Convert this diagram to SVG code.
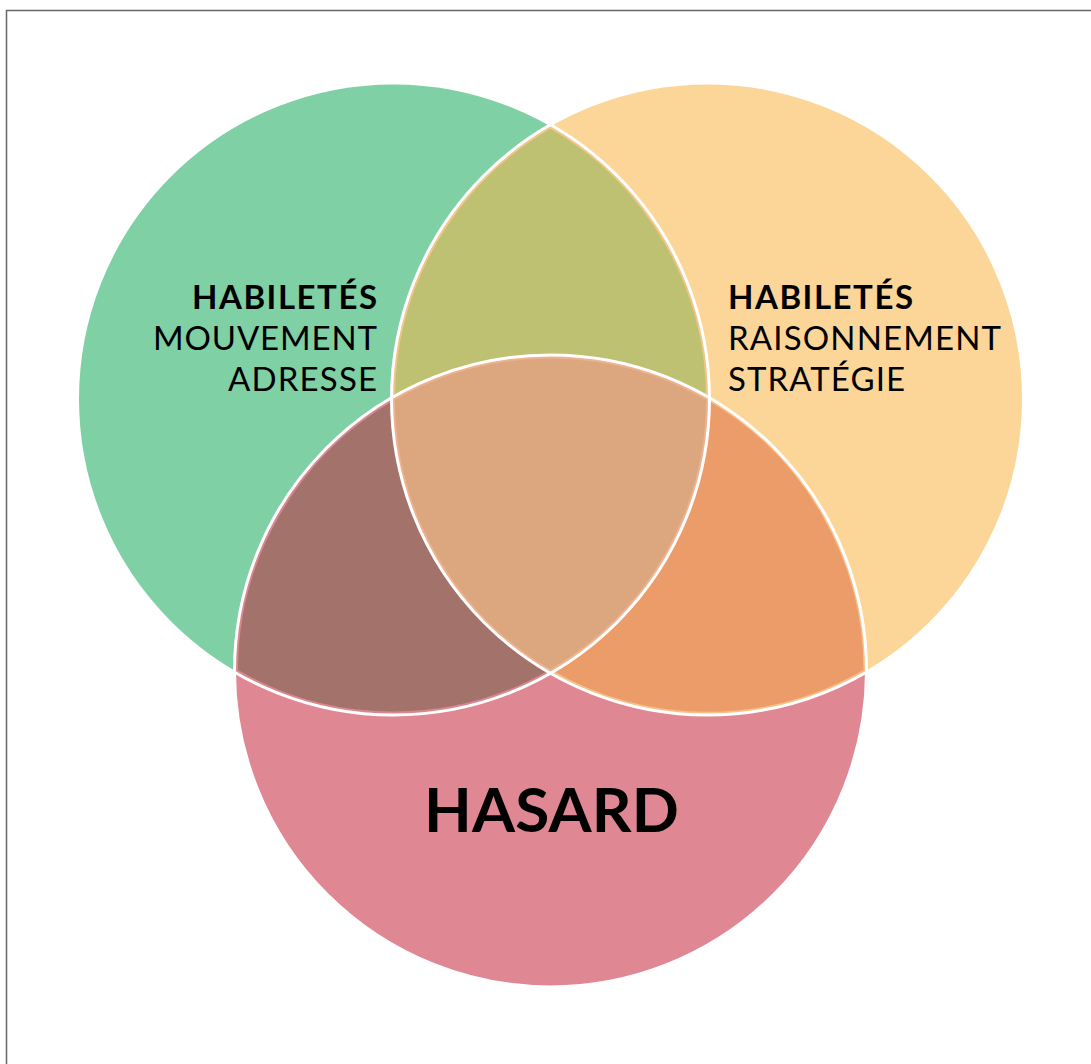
<svg xmlns="http://www.w3.org/2000/svg" width="1091" height="1064" viewBox="0 0 1091 1064">
<style>
.t{font-family:Lato,"Noto Sans",sans-serif;fill:#000;}
.b{font-weight:700;font-size:33px;}
.r{font-weight:400;font-size:33px;}
.band{fill:none;stroke-width:7;}
.edge{fill:none;stroke:#fff;stroke-width:3;}
</style>
<defs>
<path id="pGO" d="M550.5 124.76 A316 316 0 0 0 550.5 673.24 A316 316 0 0 0 550.5 124.76 Z"/>
<path id="pGR" d="M709.5 397.84 A316 316 0 0 0 234.5 672.08 A316 316 0 0 0 709.5 397.84 Z"/>
<path id="pOR" d="M391.5 397.84 A316 316 0 0 1 867 672.08 A316 316 0 0 1 391.5 397.84 Z"/>
<path id="pC" d="M391.5 397.84 A316 316 0 0 1 709.5 397.84 A316 316 0 0 1 550.5 673.24 A316 316 0 0 1 391.5 397.84 Z"/>
<clipPath id="cGO"><use href="#pGO"/></clipPath>
<clipPath id="cGR"><use href="#pGR"/></clipPath>
<clipPath id="cOR"><use href="#pOR"/></clipPath>
<clipPath id="cC"><use href="#pC"/></clipPath>
</defs>
<rect x="0" y="0" width="1091" height="1064" fill="#fff"/>
<rect x="6.5" y="10.5" width="1100" height="1100" fill="#fff" stroke="#666" stroke-width="1.5"/>
<g id="circle-mouvement">
<circle cx="393.5" cy="399" r="316" fill="#80D0A6"/>
</g>
<g id="circle-raisonnement">
<circle cx="707.5" cy="399" r="316" fill="#FCD699"/>
</g>
<g id="circle-hasard">
<circle cx="550.5" cy="670.9" r="316" fill="#E08794"/>
</g>
<g id="overlap-go">
<use href="#pGO" fill="#BFC172"/>
<use href="#pGO" class="band" stroke="#F0C588" clip-path="url(#cGO)"/>
</g>
<g id="overlap-gr">
<use href="#pGR" fill="#A3726B"/>
<use href="#pGR" class="band" stroke="#D9868F" clip-path="url(#cGR)"/>
</g>
<g id="overlap-or">
<use href="#pOR" fill="#EC9C68"/>
<use href="#pOR" class="band" stroke="#F6C08A" clip-path="url(#cOR)"/>
</g>
<g id="overlap-center">
<use href="#pC" fill="#DCA77E"/>
<use href="#pC" class="band" stroke="#EDB28F" clip-path="url(#cC)"/>
</g>
<g id="edges">
<circle class="edge" cx="393.5" cy="399" r="316"/>
<circle class="edge" cx="707.5" cy="399" r="316"/>
<circle class="edge" cx="550.5" cy="670.9" r="316"/>
</g>
<g id="label-left">
<text class="t b" x="377" y="309" text-anchor="end" textLength="185" lengthAdjust="spacing">HABILETÉS</text>
<text class="t r" x="377" y="350" text-anchor="end" textLength="224" lengthAdjust="spacing">MOUVEMENT</text>
<text class="t r" x="377" y="391" text-anchor="end" textLength="149" lengthAdjust="spacing">ADRESSE</text>
</g>
<g id="label-right">
<text class="t b" x="728" y="309" textLength="185" lengthAdjust="spacing">HABILETÉS</text>
<text class="t r" x="728" y="350" textLength="273" lengthAdjust="spacing">RAISONNEMENT</text>
<text class="t r" x="728" y="391" textLength="177" lengthAdjust="spacing">STRATÉGIE</text>
</g>
<g id="label-bottom">
<text class="t" x="424" y="832" font-weight="700" font-size="62" textLength="255" lengthAdjust="spacing">HASARD</text>
</g>
</svg>
